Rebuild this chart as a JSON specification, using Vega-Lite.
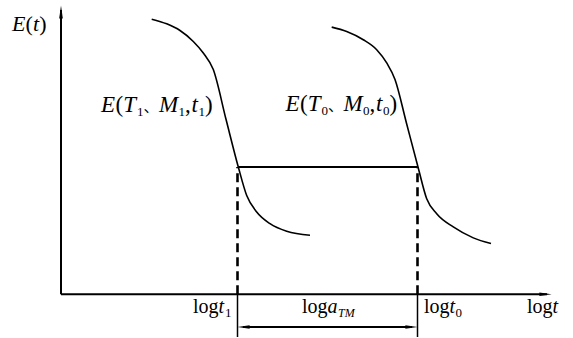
{
  "$schema": "https://vega.github.io/schema/vega-lite/v6.json",
  "width": 573,
  "height": 338,
  "autosize": {"type": "fit", "contains": "padding"},
  "padding": 0,
  "background": "white",
  "config": {"view": {"stroke": null}},
  "datasets": {
    "axes": [
      {"x": 0, "y": 0, "x2": 0, "y2": 28.6},
      {"x": 0, "y": 0, "x2": 48.6, "y2": 0}
    ],
    "dashed": [
      {"x": 17.65, "y": 0, "x2": 17.65, "y2": 12.8},
      {"x": 35.65, "y": 0, "x2": 35.65, "y2": 12.8}
    ],
    "ticks": [
      {"x": 17.65, "y": 0, "x2": 17.65, "y2": -4.3},
      {"x": 35.65, "y": 0, "x2": 35.65, "y2": -4.3}
    ],
    "shift": [
      {"x": 17.7, "y": 12.8, "x2": 35.7, "y2": 12.8}
    ],
    "span": [
      {"x": 18.2, "y": -3.3, "x2": 35.1, "y2": -3.3}
    ],
    "curves": [
      {"series": "T1", "x": 9.07, "y": 27.67},
      {"series": "T1", "x": 10.57, "y": 27.2},
      {"series": "T1", "x": 11.9, "y": 26.53},
      {"series": "T1", "x": 13.23, "y": 25.43},
      {"series": "T1", "x": 14.23, "y": 24.27},
      {"series": "T1", "x": 15.23, "y": 22.6},
      {"series": "T1", "x": 16.5, "y": 17.6},
      {"series": "T1", "x": 17.73, "y": 12.8},
      {"series": "T1", "x": 18.57, "y": 9.93},
      {"series": "T1", "x": 19.57, "y": 8.27},
      {"series": "T1", "x": 20.9, "y": 7.1},
      {"series": "T1", "x": 22.57, "y": 6.33},
      {"series": "T1", "x": 24.9, "y": 5.93},
      {"series": "T0", "x": 27.07, "y": 26.87},
      {"series": "T0", "x": 28.57, "y": 26.43},
      {"series": "T0", "x": 30.23, "y": 25.6},
      {"series": "T0", "x": 31.57, "y": 24.6},
      {"series": "T0", "x": 32.57, "y": 23.27},
      {"series": "T0", "x": 33.4, "y": 21.6},
      {"series": "T0", "x": 34.55, "y": 17.2},
      {"series": "T0", "x": 35.7, "y": 12.8},
      {"series": "T0", "x": 36.57, "y": 9.6},
      {"series": "T0", "x": 37.57, "y": 8.1},
      {"series": "T0", "x": 39.23, "y": 6.77},
      {"series": "T0", "x": 41.23, "y": 5.67},
      {"series": "T0", "x": 43.0, "y": 5.1}
    ],
    "arrowUp": [{"x": 0, "y": 28.4}],
    "arrowRight": [{"x": 48.45, "y": 0}, {"x": 35.05, "y": -3.3}],
    "arrowLeft": [{"x": 18.25, "y": -3.3}],
    "romanEt": [
      {"x": -3.55, "y": 26.45, "t": "("},
      {"x": -2.18, "y": 26.45, "t": ")"}
    ],
    "italicEt": [
      {"x": -4.9, "y": 26.45, "t": "E"},
      {"x": -2.8, "y": 26.45, "t": "t"}
    ],
    "romanLabel": [
      {"x": 5.45, "y": 18.3, "t": "("},
      {"x": 12.4, "y": 18.3, "t": ","},
      {"x": 14.4, "y": 18.3, "t": ")"},
      {"x": 23.9, "y": 18.4, "t": "("},
      {"x": 30.85, "y": 18.4, "t": ","},
      {"x": 32.85, "y": 18.4, "t": ")"}
    ],
    "italicLabel": [
      {"x": 4.0, "y": 18.3, "t": "E"},
      {"x": 6.22, "y": 18.3, "t": "T"},
      {"x": 9.8, "y": 18.3, "t": "M"},
      {"x": 13.05, "y": 18.3, "t": "t"},
      {"x": 22.45, "y": 18.4, "t": "E"},
      {"x": 24.67, "y": 18.4, "t": "T"},
      {"x": 28.25, "y": 18.4, "t": "M"},
      {"x": 31.5, "y": 18.4, "t": "t"}
    ],
    "subLabel": [
      {"x": 7.6, "y": 17.9, "t": "1"},
      {"x": 11.75, "y": 17.9, "t": "1"},
      {"x": 13.75, "y": 17.9, "t": "1"},
      {"x": 26.05, "y": 18.0, "t": "0"},
      {"x": 30.2, "y": 18.0, "t": "0"},
      {"x": 32.2, "y": 18.0, "t": "0"}
    ],
    "cjk": [
      {"x": 8.25, "y": 18.3, "t": "、"},
      {"x": 26.7, "y": 18.4, "t": "、"}
    ],
    "romanAxis": [
      {"x": 13.2, "y": -1.9, "t": "log"},
      {"x": 24.1, "y": -1.9, "t": "log"},
      {"x": 36.3, "y": -1.9, "t": "log"},
      {"x": 46.6, "y": -1.9, "t": "log"}
    ],
    "italicAxis": [
      {"x": 15.76, "y": -1.9, "t": "t"},
      {"x": 26.66, "y": -1.9, "t": "a"},
      {"x": 38.86, "y": -1.9, "t": "t"},
      {"x": 49.16, "y": -1.9, "t": "t"}
    ],
    "subAxis": [
      {"x": 16.4, "y": -2.3, "t": "1"},
      {"x": 39.45, "y": -2.3, "t": "0"}
    ],
    "subItalicAxis": [
      {"x": 27.7, "y": -2.3, "t": "TM"}
    ]
  },
  "encoding": {
    "x": {"field": "x", "type": "quantitative", "axis": null, "scale": {"domain": [-6.1, 51.2], "nice": false, "zero": false}},
    "y": {"field": "y", "type": "quantitative", "axis": null, "scale": {"domain": [-4.2, 29.6], "nice": false, "zero": false}}
  },
  "layer": [
    {"data": {"name": "axes"}, "mark": {"type": "rule", "color": "black", "strokeWidth": 2}, "encoding": {"x2": {"field": "x2"}, "y2": {"field": "y2"}}},
    {"data": {"name": "dashed"}, "mark": {"type": "rule", "color": "black", "strokeWidth": 2.6, "strokeDash": [9, 5]}, "encoding": {"x2": {"field": "x2"}, "y2": {"field": "y2"}}},
    {"data": {"name": "ticks"}, "mark": {"type": "rule", "color": "black", "strokeWidth": 1.5}, "encoding": {"x2": {"field": "x2"}, "y2": {"field": "y2"}}},
    {"data": {"name": "shift"}, "mark": {"type": "rule", "color": "black", "strokeWidth": 2}, "encoding": {"x2": {"field": "x2"}, "y2": {"field": "y2"}}},
    {"data": {"name": "span"}, "mark": {"type": "rule", "color": "black", "strokeWidth": 2}, "encoding": {"x2": {"field": "x2"}, "y2": {"field": "y2"}}},
    {"data": {"name": "curves"}, "mark": {"type": "line", "color": "black", "strokeWidth": 1.6, "interpolate": "monotone"}, "encoding": {"detail": {"field": "series"}}},
    {"data": {"name": "arrowUp"}, "mark": {"type": "point", "filled": true, "color": "black", "opacity": 1, "strokeWidth": 0, "size": 169, "shape": "M0,-1L0.28,1L-0.28,1Z"}},
    {"data": {"name": "arrowRight"}, "mark": {"type": "point", "filled": true, "color": "black", "opacity": 1, "strokeWidth": 0, "size": 150, "shape": "M1,0L-1,-0.28L-1,0.28Z"}},
    {"data": {"name": "arrowLeft"}, "mark": {"type": "point", "filled": true, "color": "black", "opacity": 1, "strokeWidth": 0, "size": 150, "shape": "M-1,0L1,-0.28L1,0.28Z"}},
    {"data": {"name": "romanEt"}, "mark": {"type": "text", "font": "Liberation Serif", "fontSize": 22, "align": "left", "baseline": "alphabetic", "color": "black"}, "encoding": {"text": {"field": "t"}}},
    {"data": {"name": "italicEt"}, "mark": {"type": "text", "font": "Liberation Serif", "fontSize": 22, "fontStyle": "italic", "align": "left", "baseline": "alphabetic", "color": "black"}, "encoding": {"text": {"field": "t"}}},
    {"data": {"name": "romanLabel"}, "mark": {"type": "text", "font": "Liberation Serif", "fontSize": 23, "align": "left", "baseline": "alphabetic", "color": "black"}, "encoding": {"text": {"field": "t"}}},
    {"data": {"name": "italicLabel"}, "mark": {"type": "text", "font": "Liberation Serif", "fontSize": 23, "fontStyle": "italic", "align": "left", "baseline": "alphabetic", "color": "black"}, "encoding": {"text": {"field": "t"}}},
    {"data": {"name": "subLabel"}, "mark": {"type": "text", "font": "Liberation Serif", "fontSize": 13, "align": "left", "baseline": "alphabetic", "color": "black"}, "encoding": {"text": {"field": "t"}}},
    {"data": {"name": "cjk"}, "mark": {"type": "text", "font": "Noto Sans CJK SC", "fontSize": 15, "align": "left", "baseline": "alphabetic", "color": "black"}, "encoding": {"text": {"field": "t"}}},
    {"data": {"name": "romanAxis"}, "mark": {"type": "text", "font": "Liberation Serif", "fontSize": 20, "align": "left", "baseline": "alphabetic", "color": "black"}, "encoding": {"text": {"field": "t"}}},
    {"data": {"name": "italicAxis"}, "mark": {"type": "text", "font": "Liberation Serif", "fontSize": 20, "fontStyle": "italic", "align": "left", "baseline": "alphabetic", "color": "black"}, "encoding": {"text": {"field": "t"}}},
    {"data": {"name": "subAxis"}, "mark": {"type": "text", "font": "Liberation Serif", "fontSize": 13, "align": "left", "baseline": "alphabetic", "color": "black"}, "encoding": {"text": {"field": "t"}}},
    {"data": {"name": "subItalicAxis"}, "mark": {"type": "text", "font": "Liberation Serif", "fontSize": 12, "fontStyle": "italic", "align": "left", "baseline": "alphabetic", "color": "black"}, "encoding": {"text": {"field": "t"}}}
  ]
}
